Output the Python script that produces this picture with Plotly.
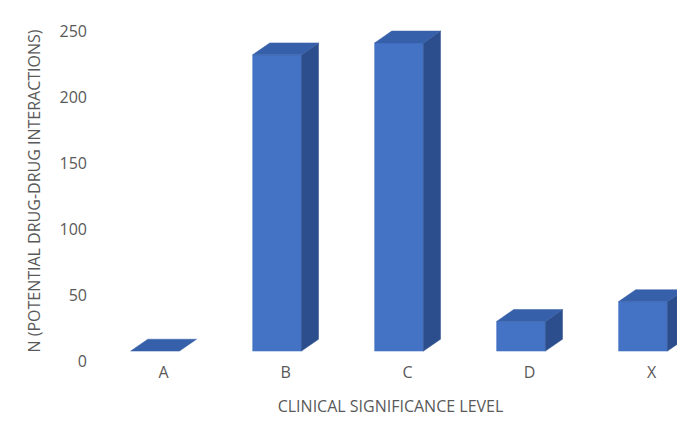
import plotly.graph_objects as go

categories = ["A", "B", "C", "D", "X"]
values = [0, 232, 241, 30, 45]

base = 7.5      # floor of front face in axis units
w = 0.40        # front face width (category units)
dx = 0.14       # depth offset x
dy = 9          # depth offset y

front_c = "#4472C4"
side_c = "#2C4E8C"
top_c = "#3760AA"

fig = go.Figure()
for i, (c, v) in enumerate(zip(categories, values)):
    x0 = i - w / 2 - dx / 2
    x1 = x0 + w
    top = max(v, base)
    faces = []
    if top > base:
        faces.append(([x0, x1, x1, x0, x0], [base, base, top, top, base], front_c))
        faces.append(([x1, x1 + dx, x1 + dx, x1, x1], [base, base + dy, top + dy, top, base], side_c))
    faces.append(([x0, x1, x1 + dx, x0 + dx, x0], [top, top, top + dy, top + dy, top], top_c))
    for xs, ys, col in faces:
        fig.add_trace(go.Scatter(x=xs, y=ys, fill="toself", fillcolor=col, mode="lines",
                                 line=dict(color=col, width=0.5), hoverinfo="skip", showlegend=False))

font_c = "#595959"
fig.update_layout(
    width=685, height=425, plot_bgcolor="white", paper_bgcolor="white",
    margin=dict(l=80, r=0, t=13, b=72, autoexpand=False),
    font=dict(family="Open Sans, Liberation Sans, sans-serif", size=16, color=font_c),
    xaxis=dict(range=[-0.62, 4.34], tickvals=list(range(len(categories))), ticktext=categories,
               showgrid=False, zeroline=False, showline=False, ticks="", automargin=False,
               title=dict(text="CLINICAL SIGNIFICANCE LEVEL", font=dict(size=16, color=font_c), standoff=18)),
    yaxis=dict(range=[0, 257.6], tickvals=[0, 50, 100, 150, 200, 250], showgrid=False,
               zeroline=False, showline=False, ticks="", ticklen=0, automargin=False,
               title=dict(text="N (POTENTIAL DRUG-DRUG INTERACTIONS)", font=dict(size=16, color=font_c), standoff=14)),
)
fig.write_html("out.html")
